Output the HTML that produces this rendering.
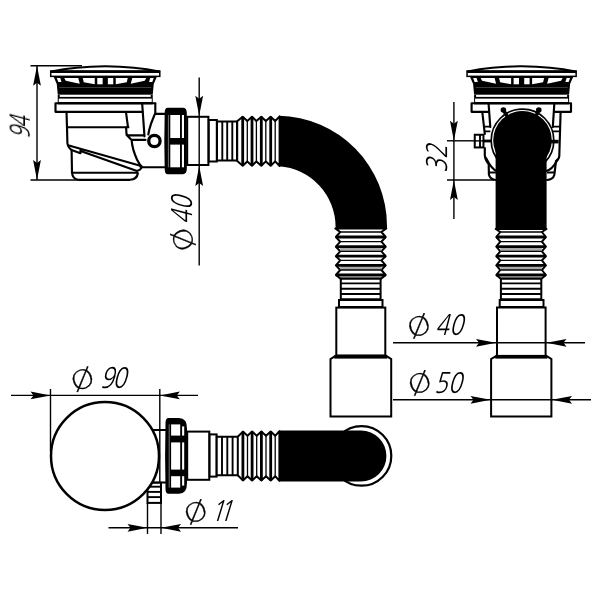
<!DOCTYPE html>
<html lang="en"><head><meta charset="utf-8"><title>Siphon drawing</title>
<style>
html,body{margin:0;padding:0;background:#fff;}
body{width:600px;height:600px;overflow:hidden;}
svg{display:block;}
.o{fill:#fff;stroke:#000;stroke-width:2;}
.n{fill:none;stroke:#000;stroke-width:2.15;stroke-linecap:round;stroke-linejoin:round;}
.d{stroke:#000;stroke-width:1.4;fill:none;}
.ar{fill:#000;stroke:none;}
.k1{stroke:#000;stroke-width:1.3;fill:none;}
.k15{stroke:#000;stroke-width:1.9;fill:none;}
.k2{stroke:#000;stroke-width:2.8;fill:none;}
.b{fill:#000;stroke:none;}
text.ph{font-family:"DejaVu Sans","Liberation Sans",sans-serif;font-weight:200;fill:#000;stroke:#000;stroke-width:0.3;vector-effect:non-scaling-stroke;}
text.dg{font-family:"NanumGothic","Liberation Sans",sans-serif;font-weight:400;fill:#000;}
</style></head><body>
<svg width="600" height="600" viewBox="0 0 600 600" role="img" aria-label="Siphon dimensional drawing">
<rect width="600" height="600" fill="#fff"/>

<g id="txt" style="opacity:0.999">
<text class="dg" transform="translate(29.7,138.6) rotate(-90) skewX(-15) scale(0.68,1)" font-size="28.2" letter-spacing="-1.6">94</text>
<text class="ph" transform="translate(183.05,239.55) rotate(-112.6) scale(1.18,1) translate(-10.10,9.45)" font-size="25.9">Ø</text>
<text class="dg" transform="translate(191.5,224.2) rotate(-90) skewX(-15) scale(0.8,1)" font-size="28.2" letter-spacing="0.3">40</text>
<text class="dg" transform="translate(446.9,172.7) rotate(-90) skewX(-15) scale(0.8,1)" font-size="28.2" letter-spacing="0.3">32</text>
<text class="ph" transform="translate(418.85,326.0) rotate(-22.6) scale(1.18,1) translate(-10.10,9.45)" font-size="25.9">Ø</text>
<text class="dg" transform="translate(435.0,335.3) rotate(0) skewX(-15) scale(0.8,1)" font-size="28.2" letter-spacing="0.3">40</text>
<text class="ph" transform="translate(419.65,383.0) rotate(-22.6) scale(1.18,1) translate(-10.10,9.45)" font-size="25.9">Ø</text>
<text class="dg" transform="translate(433.8,392.6) rotate(0) skewX(-15) scale(0.8,1)" font-size="28.2" letter-spacing="0.3">50</text>
<text class="ph" transform="translate(82.35,379.15) rotate(-22.6) scale(1.18,1) translate(-10.10,9.45)" font-size="25.9">Ø</text>
<text class="dg" transform="translate(99.9,388.3) rotate(0) skewX(-15) scale(0.8,1)" font-size="28.2" letter-spacing="-1.7">90</text>
<text class="ph" transform="translate(195.65,512.0) rotate(-22.6) scale(1.18,1) translate(-10.10,9.45)" font-size="25.9">Ø</text>
<text class="dg" transform="translate(210.0,520.5) rotate(0) skewX(-17) scale(0.8,1)" font-size="28.2" letter-spacing="-6.7">11</text>
</g>
<g id="side">
<path class="n" d="M155.3,103.2 H55.5 V111.8 H142.6"/>
<path class="n" d="M155.3,103.5 V113 C154,116.5 151,122 149.2,130 L148.3,134.5"/>
<path class="n" d="M155.3,113.9 H166"/>
<path class="n" d="M142.2,104 L144.5,136.3"/>
<path class="n" d="M126,112.3 L128,127.2 M126.1,127.6 L126.5,134 Q126.7,135.3 128.2,135.3 H144 M126.6,135 L131.6,139.9 H145.5 M131.6,139.9 C132,146 134.2,153.5 137.2,160 Q139.6,165 142.3,167.2 H166"/>
<path class="n" d="M66.5,112 L67,127.2 H128.4 M67,127.2 L67.4,143 Q67.8,147.5 71.6,150 L72,172.5 Q72.5,179.2 78.5,179.8 H130 Q137,179.3 137.8,173.5"/>
<path class="n" d="M72,172.7 H137.5"/>
<path class="n" d="M68,145.2 L139.5,165.5 Q144,168.6 137,171 L81.3,151.2 M71.5,150 L80.5,153.2 V148.9"/>
<circle cx="154.4" cy="141" r="5.7" fill="#fff" stroke="#000" stroke-width="3.3"/>
<path class="o" stroke-width="2.5" stroke-linejoin="round" d="M51.25,71.6 Q75.25,66.5 105.25,66.3 Q135.25,66.5 159.25,71.6 Z"/><rect x="49.95" y="70.3" width="110.6" height="6.8" fill="#000"/><rect x="51.45" y="73" width="107.6" height="2.6" fill="#fff"/><polygon fill="#000" points="53.75,77 156.75,77 153.75,84 152.75,94.6 57.75,94.6 56.75,84"/><polygon fill="#fff" points="107.85,78 113.25,78 113.25,84.3 107.85,84.3"/><polygon fill="#fff" points="115.75,78 127.75,78 126.75,82.3 115.75,84.3"/><polygon fill="#fff" points="132.25,78 146.25,78 144.75,80.8 130.75,83.8"/><polygon fill="#fff" points="150.25,78 153.75,78 152.25,82 149.05,82"/><polygon fill="#fff" points="102.65,78 97.25,78 97.25,84.3 102.65,84.3"/><polygon fill="#fff" points="94.75,78 82.75,78 83.75,82.3 94.75,84.3"/><polygon fill="#fff" points="78.25,78 64.25,78 65.75,80.8 79.75,83.8"/><polygon fill="#fff" points="60.25,78 56.75,78 58.25,82 61.45,82"/><line x1="59.25" y1="87.5" x2="151.25" y2="87.5" stroke="#555" stroke-width="0.7"/><rect x="57.75" y="94.6" width="95" height="9.8" fill="#000"/><rect x="59.75" y="95" width="91" height="1.9" fill="#fff"/><rect x="58.75" y="98.6" width="93" height="3.4" fill="#fff"/>
<path class="b" d="M167.7,107.8 H182.8 Q186.8,107.8 186.8,113.2 V168.79999999999998 Q186.8,174.2 182.8,174.2 H167.7 Q164.7,174.2 164.7,169.2 Q163.89999999999998,141.0 164.7,112.8 Q164.7,107.8 167.7,107.8 Z"/><rect fill="#fff" x="170.30" y="115" width="9.70" height="23.00"/><rect fill="#fff" x="181.90" y="115.0" width="2.1" height="23.00"/><rect fill="#fff" x="170.30" y="144.6" width="9.70" height="22.70"/><rect fill="#fff" x="181.90" y="144.6" width="2.1" height="22.70"/><line x1="168.39999999999998" y1="115" x2="168.39999999999998" y2="167.3" stroke="#aaa" stroke-width="0.7"/>
<rect class="o" stroke-width="2" x="187.20" y="116.80" width="21.20" height="48.20"/>
<rect class="o" stroke-width="2" x="208.80" y="120.00" width="8.00" height="41.50"/>
<polygon class="o" points="217.00,121.60 237.00,121.60 237.00,160.40 217.00,160.40"/><polyline class="k15" points="222.30,121.60 222.30,160.40"/><polyline class="k15" points="227.20,121.60 227.20,160.40"/><polyline class="k15" points="232.30,121.60 232.30,160.40"/>
<polygon class="o" stroke-width="2.2" stroke-linejoin="round" points="237.20,121.30 242.70,116.70 247.30,121.00 252.00,116.70 256.40,121.00 261.30,116.70 265.80,121.00 270.70,116.70 275.20,121.00 279.60,116.40 279.60,166.00 275.20,161.40 270.70,165.70 265.80,161.40 261.30,165.70 256.40,161.40 252.00,165.70 247.30,161.40 242.70,165.70 237.20,161.10"/><polyline class="k1" points="247.30,121.00 247.30,161.40"/><polyline class="k1" points="256.40,121.00 256.40,161.40"/><polyline class="k1" points="265.80,121.00 265.80,161.40"/><polyline class="k1" points="275.20,121.00 275.20,161.40"/><polyline class="k2" points="242.70,116.70 242.70,165.70"/><polyline class="k2" points="252.00,116.70 252.00,165.70"/><polyline class="k2" points="261.30,116.70 261.30,165.70"/><polyline class="k2" points="270.70,116.70 270.70,165.70"/>
<path class="b" d="M279,115.8 A110,110.2 0 0 1 387,226 L387,229 L335.4,229 L335.6,227 A60.9,60.9 0 0 0 279,166.3 Z"/>
<polygon class="o" stroke-width="2.2" stroke-linejoin="round" points="335.30,228.40 340.20,232.00 335.90,237.00 340.20,241.70 335.90,246.70 340.20,251.30 335.90,256.20 340.20,260.40 335.90,265.40 340.20,270.00 335.90,275.00 340.50,278.60 381.10,278.60 385.70,275.00 381.40,270.00 385.70,265.40 381.40,260.40 385.70,256.20 381.40,251.30 385.70,246.70 381.40,241.70 385.70,237.00 381.40,232.00 386.30,228.40"/><rect x="340.20" y="246.70" width="41.20" height="4.60" fill="#a8a8a8"/><rect x="340.20" y="265.40" width="41.20" height="4.60" fill="#a8a8a8"/><polyline class="k1" points="340.20,232.00 381.40,232.00"/><polyline class="k1" points="340.20,241.70 381.40,241.70"/><polyline class="k1" points="340.20,251.30 381.40,251.30"/><polyline class="k1" points="340.20,260.40 381.40,260.40"/><polyline class="k1" points="340.20,270.00 381.40,270.00"/><polyline class="k2" points="335.90,237.00 385.70,237.00"/><polyline class="k2" points="335.90,246.70 385.70,246.70"/><polyline class="k2" points="335.90,256.20 385.70,256.20"/><polyline class="k2" points="335.90,265.40 385.70,265.40"/><polyline class="k2" points="335.90,275.00 385.70,275.00"/>
<polygon class="o" points="340.80,278.70 340.80,299.30 380.60,299.30 380.60,278.70"/><polyline class="k15" points="340.80,283.40 380.60,283.40"/><polyline class="k15" points="340.80,288.70 380.60,288.70"/><polyline class="k15" points="340.80,294.00 380.60,294.00"/>
<rect class="o" stroke-width="2" x="339.00" y="300.00" width="43.50" height="7.00"/>
<rect class="o" stroke-width="2" x="336.30" y="307.60" width="49.00" height="47.90"/>
<path class="o" d="M330.5,359 L334.5,356.6 H387.2 L391.2,359 V416.6 H330.5 Z"/>
<rect class="b" x="334.3" y="354.9" width="53" height="3.7"/>
</g>
<g id="front">
<path class="n" d="M488.4,111.8 H471.6 V103.2 H571 V111.8 H555"/>
<path class="n" d="M482.3,112 L484.8,134 M488.6,104 L490.3,127 M560.6,112 L559.3,156 Q559,159.5 556,161 L554.3,175 Q553,179.5 547,180 M554.3,104 L552.8,127"/>
<path class="n" d="M484.8,148 V155.5 Q485.2,160.5 488.7,164 L488.9,174.5 Q490,179.5 496,180"/>
<path class="n" d="M486,158 Q492,170 497,171 M557.5,160 Q552,170 546,171"/>
<rect class="o" stroke-width="1.5" x="474.75" y="134.75" width="8.70" height="12.70"/>
<line class="k15" x1="480" y1="134.5" x2="480" y2="148"/>
<line class="k2" x1="484" y1="141" x2="497" y2="141"/>
<line class="d" x1="474" y1="140.9" x2="497" y2="140.9"/>
<path class="k15" d="M484.6,126.6 H490.2 M484.9,131.4 H490.4 M559.8,126.6 H553 M559.6,131.4 H552.6 M547,172.5 H554.5 M489,172.5 H496"/>
<circle cx="522.5" cy="140.4" r="31.3" fill="#fff" stroke="#000" stroke-width="1.7"/>
<circle cx="522.5" cy="140.2" r="29.3" fill="#000"/>
<rect class="b" x="548" y="139.8" width="10.6" height="3.6"/>
<path d="M503.5,110.2 L507,116 M538.8,110.2 L536,116" stroke="#000" stroke-width="3.5" stroke-linecap="round" fill="none"/>
<circle class="b" cx="503.4" cy="110" r="2.8"/><circle class="b" cx="538.8" cy="110" r="2.8"/>
<rect class="b" x="495.6" y="140" width="51" height="89.2"/>
<path class="o" stroke-width="2.5" stroke-linejoin="round" d="M467.6,71.6 Q491.6,66.5 521.6,66.3 Q551.6,66.5 575.6,71.6 Z"/><rect x="466.3" y="70.3" width="110.6" height="6.8" fill="#000"/><rect x="467.8" y="73" width="107.6" height="2.6" fill="#fff"/><polygon fill="#000" points="470.1,77 573.1,77 570.1,84 569.1,94.6 474.1,94.6 473.1,84"/><polygon fill="#fff" points="524.20,78 529.60,78 529.60,84.3 524.20,84.3"/><polygon fill="#fff" points="532.10,78 544.10,78 543.10,82.3 532.10,84.3"/><polygon fill="#fff" points="548.60,78 562.60,78 561.10,80.8 547.10,83.8"/><polygon fill="#fff" points="566.60,78 570.10,78 568.60,82 565.40,82"/><polygon fill="#fff" points="519.00,78 513.60,78 513.60,84.3 519.00,84.3"/><polygon fill="#fff" points="511.10,78 499.10,78 500.10,82.3 511.10,84.3"/><polygon fill="#fff" points="494.60,78 480.60,78 482.10,80.8 496.10,83.8"/><polygon fill="#fff" points="476.60,78 473.10,78 474.60,82 477.80,82"/><line x1="475.6" y1="87.5" x2="567.6" y2="87.5" stroke="#555" stroke-width="0.7"/><rect x="474.1" y="94.6" width="95" height="9.8" fill="#000"/><rect x="476.1" y="95" width="91" height="1.9" fill="#fff"/><rect x="475.1" y="98.6" width="93" height="3.4" fill="#fff"/>
<polygon class="o" stroke-width="2.2" stroke-linejoin="round" points="495.70,229.00 500.30,232.00 496.30,237.00 500.30,241.70 496.30,246.70 500.30,251.30 496.30,256.20 500.30,260.40 496.30,265.40 500.30,270.00 496.30,275.00 500.50,278.60 541.70,278.60 545.90,275.00 541.90,270.00 545.90,265.40 541.90,260.40 545.90,256.20 541.90,251.30 545.90,246.70 541.90,241.70 545.90,237.00 541.90,232.00 546.50,229.00"/><rect x="500.30" y="246.70" width="41.60" height="4.60" fill="#a8a8a8"/><rect x="500.30" y="265.40" width="41.60" height="4.60" fill="#a8a8a8"/><polyline class="k1" points="500.30,232.00 541.90,232.00"/><polyline class="k1" points="500.30,241.70 541.90,241.70"/><polyline class="k1" points="500.30,251.30 541.90,251.30"/><polyline class="k1" points="500.30,260.40 541.90,260.40"/><polyline class="k1" points="500.30,270.00 541.90,270.00"/><polyline class="k2" points="496.30,237.00 545.90,237.00"/><polyline class="k2" points="496.30,246.70 545.90,246.70"/><polyline class="k2" points="496.30,256.20 545.90,256.20"/><polyline class="k2" points="496.30,265.40 545.90,265.40"/><polyline class="k2" points="496.30,275.00 545.90,275.00"/>
<polygon class="o" points="500.90,278.70 500.90,299.30 541.30,299.30 541.30,278.70"/><polyline class="k15" points="500.90,283.40 541.30,283.40"/><polyline class="k15" points="500.90,288.70 541.30,288.70"/><polyline class="k15" points="500.90,294.00 541.30,294.00"/>
<rect class="o" stroke-width="2" x="499.70" y="300.00" width="43.80" height="7.00"/>
<rect class="o" stroke-width="2" x="497.00" y="307.50" width="48.60" height="48.50"/>
<path class="o" d="M491.1,359 L495.3,356.6 H547.4 L551.4,359 V416.4 H491.1 Z"/>
<rect class="b" x="495.3" y="354.9" width="52" height="3.7"/>
</g>
<g id="plan">
<circle cx="361.5" cy="455.9" r="29.8" fill="#fff" stroke="#000" stroke-width="2.2"/>
<path class="b" d="M279,430.5 H361 A25.4,25.45 0 0 1 361,481.4 H279 Z"/>
<path class="n" d="M153,430 H166 M153,482.5 H166"/>
<rect class="o" stroke-width="1.6" x="147.50" y="482.80" width="13.50" height="20.10"/>
<line class="k15" x1="147.5" y1="486.7" x2="161" y2="486.7"/>
<line class="k15" x1="147.5" y1="491.9" x2="161" y2="491.9"/>
<line class="k15" x1="147.5" y1="497.1" x2="161" y2="497.1"/>
<circle cx="105" cy="456" r="54" fill="#fff" stroke="#000" stroke-width="2.5"/>
<path class="b" d="M168.5,418 H179 Q187,418 187,428.8 V483.0 Q187,493.8 179,493.8 H168.5 Q165.5,493.8 165.5,488.8 Q164.7,455.9 165.5,423 Q165.5,418 168.5,418 Z"/><rect fill="#fff" x="171.10" y="424.4" width="9.10" height="11.20"/><rect fill="#fff" x="182.10" y="426.4" width="2.1" height="9.20"/><rect fill="#fff" x="171.10" y="442.4" width="9.10" height="27.20"/><rect fill="#fff" x="182.10" y="442.4" width="2.1" height="27.20"/><rect fill="#fff" x="171.10" y="476.2" width="9.10" height="11.40"/><rect fill="#fff" x="182.10" y="476.2" width="2.1" height="9.40"/><line x1="169.2" y1="424.4" x2="169.2" y2="487.6" stroke="#aaa" stroke-width="0.7"/>
<rect class="o" stroke-width="2" x="187.20" y="431.60" width="22.10" height="48.20"/>
<rect class="o" stroke-width="2" x="209.60" y="434.40" width="7.00" height="42.20"/>
<polygon class="o" points="216.70,436.80 238.00,436.80 238.00,475.20 216.70,475.20"/><polyline class="k15" points="222.00,436.80 222.00,475.20"/><polyline class="k15" points="227.30,436.80 227.30,475.20"/><polyline class="k15" points="232.60,436.80 232.60,475.20"/>
<polygon class="o" stroke-width="2.2" stroke-linejoin="round" points="237.80,436.80 242.90,431.60 247.50,435.80 252.10,431.60 256.70,435.80 261.40,431.60 266.00,435.80 270.70,431.60 275.20,435.80 279.40,431.20 279.40,480.80 275.20,476.20 270.70,480.40 266.00,476.20 261.40,480.40 256.70,476.20 252.10,480.40 247.50,476.20 242.90,480.40 237.80,475.20"/><polyline class="k1" points="247.50,435.80 247.50,476.20"/><polyline class="k1" points="256.70,435.80 256.70,476.20"/><polyline class="k1" points="266.00,435.80 266.00,476.20"/><polyline class="k1" points="275.20,435.80 275.20,476.20"/><polyline class="k2" points="242.90,431.60 242.90,480.40"/><polyline class="k2" points="252.10,431.60 252.10,480.40"/><polyline class="k2" points="261.40,431.60 261.40,480.40"/><polyline class="k2" points="270.70,431.60 270.70,480.40"/>
</g>
<g id="dims">
<line class="d" x1="30.5" y1="65.7" x2="82" y2="65.7"/>
<line class="d" x1="30.5" y1="180" x2="78" y2="180"/>
<line class="d" x1="37" y1="66" x2="37" y2="180"/>
<polygon class="ar" transform="translate(37,65.8) rotate(-90)" points="0,0 -20,-3.9 -17,0 -20,3.9"/>
<polygon class="ar" transform="translate(37,180) rotate(90)" points="0,0 -20,-3.9 -17,0 -20,3.9"/>
<line class="d" x1="199.2" y1="77.5" x2="199.2" y2="265.5"/>
<polygon class="ar" transform="translate(199.2,115.8) rotate(90)" points="0,0 -20,-3.9 -17,0 -20,3.9"/>
<polygon class="ar" transform="translate(199.2,166) rotate(-90)" points="0,0 -20,-3.9 -17,0 -20,3.9"/>
<line class="d" x1="453.9" y1="102" x2="453.9" y2="219"/>
<line class="d" x1="447" y1="140.8" x2="475" y2="140.8"/>
<line class="d" x1="447" y1="180" x2="494" y2="180"/>
<polygon class="ar" transform="translate(453.9,140.8) rotate(90)" points="0,0 -20,-3.9 -17,0 -20,3.9"/>
<polygon class="ar" transform="translate(453.9,180) rotate(-90)" points="0,0 -20,-3.9 -17,0 -20,3.9"/>
<line class="d" x1="393" y1="342.8" x2="585" y2="342.8"/>
<polygon class="ar" transform="translate(496,342.8) rotate(0)" points="0,0 -20,-3.9 -17,0 -20,3.9"/>
<polygon class="ar" transform="translate(546.5,342.8) rotate(180)" points="0,0 -20,-3.9 -17,0 -20,3.9"/>
<line class="d" x1="393" y1="399.8" x2="591" y2="399.8"/>
<polygon class="ar" transform="translate(490.5,399.8) rotate(0)" points="0,0 -20,-3.9 -17,0 -20,3.9"/>
<polygon class="ar" transform="translate(552,399.8) rotate(180)" points="0,0 -20,-3.9 -17,0 -20,3.9"/>
<line class="d" x1="11" y1="395.4" x2="198" y2="395.4"/>
<line class="d" x1="50.5" y1="389" x2="50.5" y2="452"/>
<line class="d" x1="159.8" y1="389" x2="159.8" y2="482"/>
<line class="d" x1="161" y1="503" x2="161" y2="534"/>
<polygon class="ar" transform="translate(50.5,395.4) rotate(0)" points="0,0 -20,-3.9 -17,0 -20,3.9"/>
<polygon class="ar" transform="translate(159.8,395.4) rotate(180)" points="0,0 -20,-3.9 -17,0 -20,3.9"/>
<line class="d" x1="108.5" y1="527.8" x2="238" y2="527.8"/>
<line class="d" x1="147.5" y1="503" x2="147.5" y2="534"/>
<polygon class="ar" transform="translate(147.5,527.8) rotate(0)" points="0,0 -20,-3.9 -17,0 -20,3.9"/>
<polygon class="ar" transform="translate(161,527.8) rotate(180)" points="0,0 -20,-3.9 -17,0 -20,3.9"/>
</g>
</svg></body></html>
